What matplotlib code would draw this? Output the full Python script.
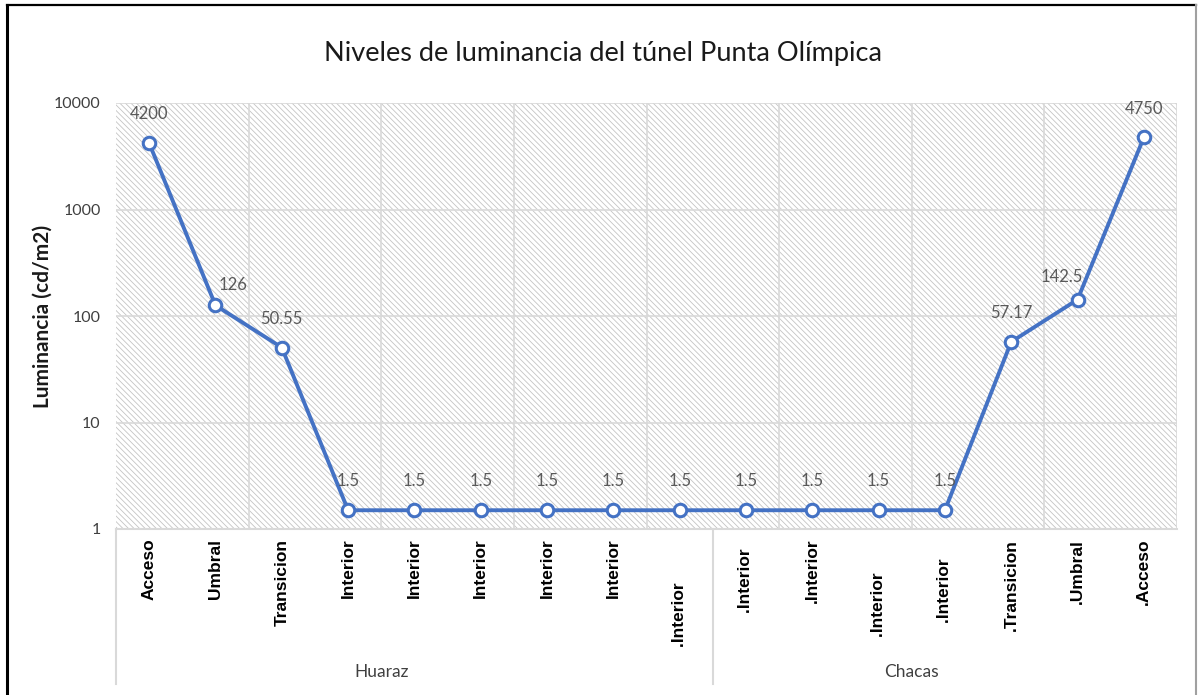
import matplotlib.pyplot as plt
from matplotlib.patches import Rectangle
from matplotlib.lines import Line2D

plt.rcParams['font.family'] = ['Lato', 'DejaVu Sans']
plt.rcParams['hatch.linewidth'] = 0.6

# datos del tunel
categorias = ['Acceso', 'Umbral', 'Transicion', 'Interior', 'Interior', 'Interior',
              'Interior', 'Interior', '.Interior' + ' ' * 9,
              '.Interior  ', '.Interior', '.Interior' + ' ' * 7, '.Interior    ',
              '.Transicion', '.Umbral', '.Acceso']
luminancia = [4200, 126, 50.55, 1.5, 1.5, 1.5, 1.5, 1.5, 1.5,
              1.5, 1.5, 1.5, 1.5, 57.17, 142.5, 4750]
etiquetas = ['4200', '126', '50.55', '1.5', '1.5', '1.5', '1.5', '1.5', '1.5',
             '1.5', '1.5', '1.5', '1.5', '57.17', '142.5', '4750']
grupos = ['Huaraz', 'Chacas']
n_grupo = [9, 7]

azul = '#4472C4'
gris = '#d9d9d9'

fig = plt.figure(figsize=(11.98, 6.95), dpi=100)
ax = fig.add_axes([116 / 1198, 166 / 695, 1061 / 1198, 426 / 695])

x = list(range(len(luminancia)))
ax.set_yscale('log')
ax.set_ylim(1, 10000)
ax.set_xlim(-0.5, len(x) - 0.5)

# fondo rayado
ax.add_patch(Rectangle((0, 0), 1, 1, transform=ax.transAxes, facecolor='white',
                       edgecolor='#c4c4c4', hatch='\\' * 6, linewidth=0, zorder=0))

for v in [10, 100, 1000, 10000]:
    ax.axhline(v, color=gris, lw=1.2, zorder=1)
ax.axhline(1, color=gris, lw=1.5, zorder=1, clip_on=False)
for k in range(1, len(x) // 2):
    ax.axvline(2 * k - 0.5, color=gris, lw=1.2, zorder=1)
ax.axvline(len(x) - 0.5, color=gris, lw=1.2, zorder=1)

ax.plot(x, luminancia, color=azul, lw=2.8, marker='o', markersize=9,
        markerfacecolor='white', markeredgecolor=azul, markeredgewidth=2.2, zorder=3)

# etiquetas de datos (las de 126 y 142.5 van corridas)
for i, (v, t) in enumerate(zip(luminancia, etiquetas)):
    dx, dy = 0, 15
    if t == '126':
        dx, dy = 13, 9
    elif t == '142.5':
        dx, dy = -11, 10.5
    ax.annotate(t, (i, v), xytext=(dx, dy), textcoords='offset points',
                ha='center', va='bottom', fontsize=12, color='#595959', zorder=4)

for s in ax.spines.values():
    s.set_visible(False)

ax.set_xticks(x)
ax.set_xticklabels(categorias, rotation=90, fontsize=12.5, fontweight='bold',
                   va='top', ha='center', family=['Liberation Sans', 'DejaVu Sans'])
ax.tick_params(axis='x', length=0, pad=7)
ax.set_yticks([1, 10, 100, 1000, 10000])
ax.set_yticklabels(['1', '10', '100', '1000', '10000'])
ax.minorticks_off()
ax.tick_params(axis='y', length=0, labelsize=11.5, labelcolor='#404040', pad=11)
ax.set_ylabel('Luminancia (cd/m2)', fontsize=15, fontweight='bold', color='#1a1a1a')
ax.yaxis.set_label_coords(-63 / 1061, 0.5)

# separadores y nombres de grupo
inicio = -0.5
for g, n in zip(grupos, n_grupo):
    ax.add_line(Line2D([inicio, inicio], [0, -0.365], transform=ax.get_xaxis_transform(),
                       color=gris, lw=1.5, clip_on=False))
    ax.text(inicio + n / 2 - 0.5, -0.335, g, transform=ax.get_xaxis_transform(),
            ha='center', va='center', fontsize=12.5, color='#404040')
    inicio += n

ax.set_title('Niveles de luminancia del túnel Punta Olímpica', fontsize=19.5,
             color='#1a1a1a', pad=30, x=(603 - 116) / 1061)

# marco exterior
fig.add_artist(Line2D([7 / 1198, 7 / 1198], [0, 1 - 5 / 695], color='black', lw=2.2))
fig.add_artist(Line2D([7 / 1198, 1196 / 1198], [1 - 5 / 695, 1 - 5 / 695], color='black', lw=1.6))
fig.add_artist(Line2D([1196 / 1198, 1196 / 1198], [0, 1 - 5 / 695], color='#a0a0a0', lw=1.5))

fig.savefig('out.png', dpi=100)
